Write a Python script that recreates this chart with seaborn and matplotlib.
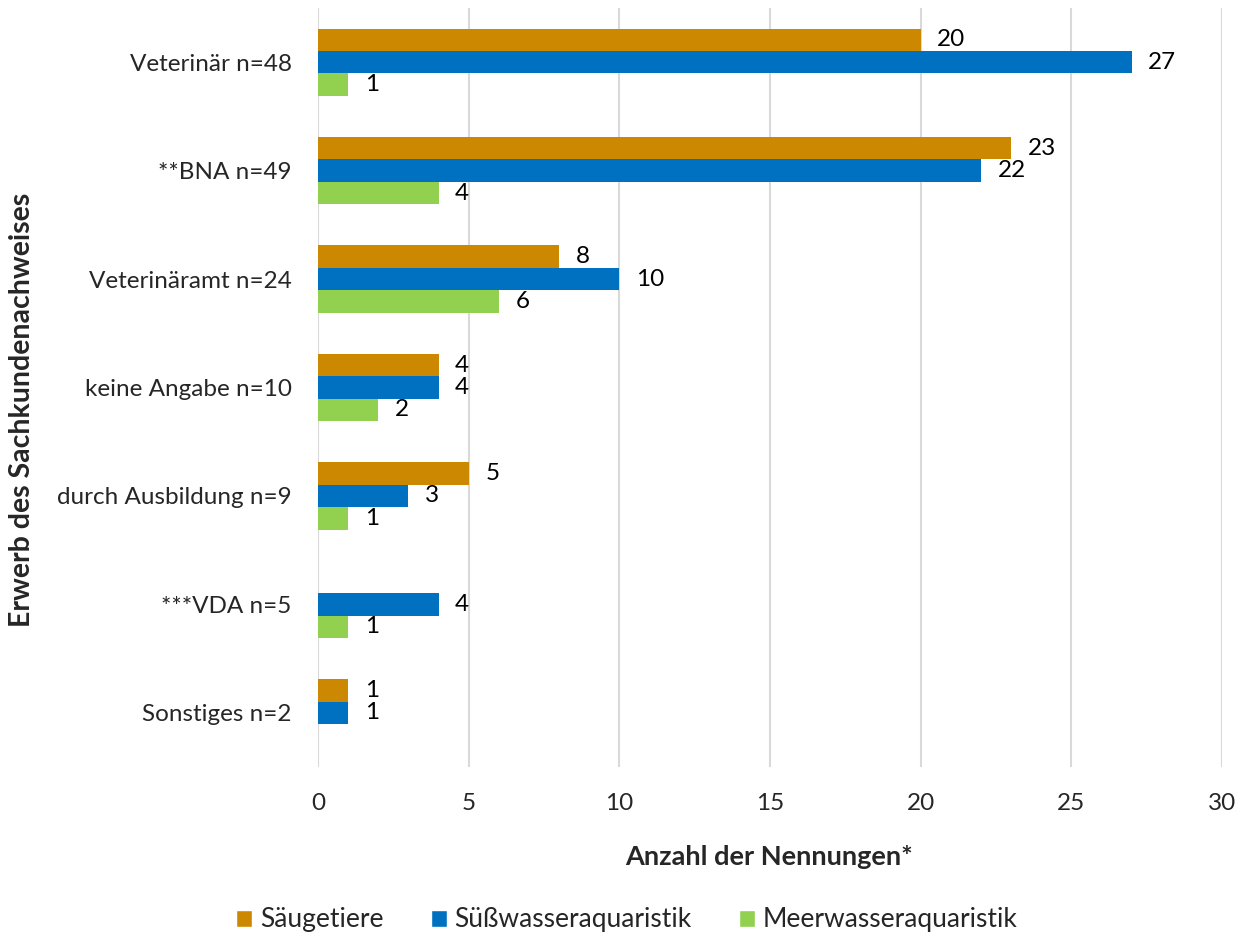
import matplotlib
matplotlib.use("Agg")
import matplotlib.pyplot as plt
import seaborn as sns
import pandas as pd
import numpy as np
from matplotlib.patches import Patch

categories = ["Veterinär n=48", "**BNA n=49", "Veterinäramt n=24", "keine Angabe n=10",
              "durch Ausbildung n=9", "***VDA n=5", "Sonstiges n=2"]
series_names = ["Säugetiere", "Süßwasseraquaristik", "Meerwasseraquaristik"]
saeugetiere = [20, 23, 8, 4, 5, 0, 1]
suesswasser = [27, 22, 10, 4, 3, 4, 1]
meerwasser = [1, 4, 6, 2, 1, 1, 0]
xticks = [0, 5, 10, 15, 20, 25, 30]
colors = ["#CC8800", "#0070C0", "#92D050"]

rows = []
for name, vals in zip(series_names, [saeugetiere, suesswasser, meerwasser]):
    for c, v in zip(categories, vals):
        rows.append({"cat": c, "serie": name, "wert": v})
df = pd.DataFrame(rows)

sns.set_theme(style="white")
plt.rcParams['font.family'] = ['Lato', 'DejaVu Sans']
FS = 17.5

fig = plt.figure(figsize=(12.46, 9.35), dpi=100)
ax = fig.add_axes([318/1246, 1-767/935, (1222-318)/1246, (767-8)/935])
sns.barplot(data=df, y="cat", x="wert", hue="serie", order=categories,
            hue_order=series_names, palette=colors, orient="h", width=0.62,
            ax=ax, legend=False, saturation=1, linewidth=0)

for cont in ax.containers:
    labels = [("%d" % b.get_width()) if b.get_width() > 0 else "" for b in cont]
    ax.bar_label(cont, labels=labels, padding=12, fontsize=FS, color="#000000")

ax.set_xlim(0, 30)
ax.set_xticks(xticks)
ax.set_xticklabels([str(t) for t in xticks], fontsize=FS)
ax.tick_params(axis="x", length=0, pad=19)
ax.tick_params(axis="y", length=0, pad=19, labelsize=FS)
ax.set_ylim(6.5, -0.5)
ax.grid(axis="x", color="#D9D9D9", linewidth=1.5)
ax.set_axisbelow(True)
for s in ax.spines.values():
    s.set_visible(False)
ax.set_xlabel("")
ax.set_ylabel("")
fig.text(769/1246, 1-857/935, "Anzahl der Nennungen*", fontsize=19.5,
         fontweight="bold", ha="center", va="center")
fig.text(22/1246, 1-410/935, "Erwerb des Sachkundenachweises", rotation=90,
         fontsize=20.5, fontweight="bold", ha="center", va="center")

handles = [Patch(facecolor=c, label=n) for c, n in zip(colors, series_names)]
fig.legend(handles=handles, loc="center", bbox_to_anchor=(627/1246, 1-920/935),
           ncol=3, frameon=False, fontsize=19, handlelength=0.6, handleheight=0.6,
           handletextpad=0.3, columnspacing=1.8, borderpad=0, borderaxespad=0)

fig.savefig("out.png", dpi=100)
